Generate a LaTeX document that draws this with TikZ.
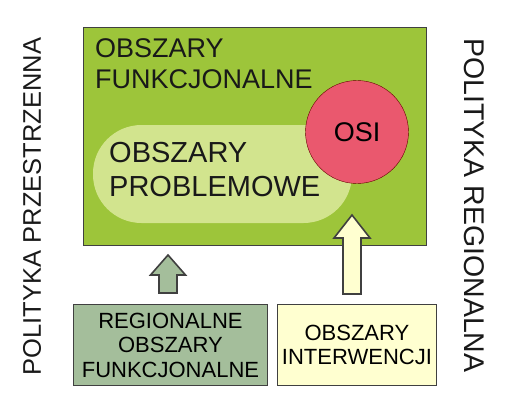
\documentclass[tikz,border=0pt]{standalone}
\usepackage{fontspec}
\setmainfont{Liberation Sans}
\usepackage{xcolor}
\usetikzlibrary{calc,positioning}
\definecolor{fieldgreen}{RGB}{157,197,58}
\definecolor{pillgreen}{RGB}{210,228,142}
\definecolor{osired}{RGB}{234,88,110}
\definecolor{regiongreen}{RGB}{164,190,155}
\definecolor{intyellow}{RGB}{255,255,208}
\newcommand{\fs}[1]{\fontsize{#1}{1.15\dimexpr#1pt\relax}\selectfont}

\begin{document}
\begin{tikzpicture}[x=1pt,y=-1pt,
    outline/.style={draw=black!75,line width=0.9pt},
    lbl/.style={inner sep=0pt,text=black!90}]
  \useasboundingbox (0,0) rectangle (508,409);
  % main area
  \node[outline,fill=fieldgreen,anchor=north west,minimum width=343pt,minimum height=218pt,inner sep=0pt] (funk) at (83,27) {};
  \fill[pillgreen,rounded corners=48.5pt] (93,125) rectangle (352,223);
  \coordinate (pill) at (93,125);
  \node[circle,draw=black!60!red,fill=osired,minimum size=103pt,inner sep=0pt,font=\fs{27}] (osi) at (357,132) {OSI};
  \node[lbl,anchor=north west,align=left,font=\fontsize{27}{31}\selectfont] (funktxt) at (95,38.5) {OBSZARY\\FUNKCJONALNE};
  \node[lbl,anchor=north west,align=left,font=\fontsize{29}{34}\selectfont] (probtxt) at (109,142.5) {OBSZARY\\PROBLEMOWE};
  % lower boxes
  \node[outline,fill=regiongreen,anchor=north west,minimum width=194pt,minimum height=81pt,inner sep=0pt,
        align=center,font=\fontsize{22}{24.5}\selectfont] (region) at (73,304) {REGIONALNE\\OBSZARY\\FUNKCJONALNE};
  \node[outline,fill=intyellow,anchor=north west,minimum width=159pt,minimum height=81pt,inner sep=0pt,
        align=center,font=\fontsize{22}{24}\selectfont] (interw) at (277,304) {OBSZARY\\INTERWENCJI};
  % block arrows
  \coordinate (tipA) at (168,255);
  \coordinate (tipB) at (352,215);
  \draw[outline,fill=regiongreen,line width=1.6pt,line join=miter]
    (tipA) -- ++(17.5,20) -- ++(-8.5,0) -- ($(region.north -| tipA)+(9,-11)$) -- ++(-18,0)
    -- ($(tipA)+(-9,20)$) -- ++(-8.5,0) -- cycle;
  \draw[outline,fill=intyellow,line width=1.6pt,line join=miter]
    (tipB) -- ++(18,23) -- ++(-9,0) -- ($(interw.north -| tipB)+(9,-10)$) -- ++(-18,0)
    -- ($(tipB)+(-9,23)$) -- ++(-9,0) -- cycle;
  % side labels
  \node[lbl,rotate=90,font=\fs{25.5}] (przestrz) at (32,206.5) {POLITYKA PRZESTRZENNA};
  \node[lbl,rotate=-90,font=\fs{28.5}] (regional) at (474,205.5) {POLITYKA REGIONALNA};
\end{tikzpicture}
\end{document}
